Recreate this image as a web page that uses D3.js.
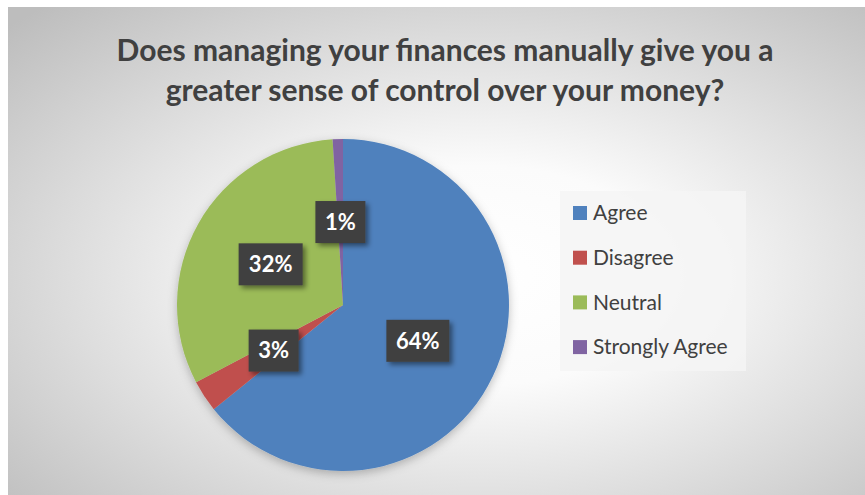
<!DOCTYPE html>
<html>
<head>
<meta charset="utf-8">
<script src="https://cdn.jsdelivr.net/npm/d3@7/dist/d3.min.js"></script>
<style>
body { margin: 0; background: #fff; }
text { font-family: Lato, "Open Sans", sans-serif; }
</style>
</head>
<body>
<script>

var categories = ["Agree", "Disagree", "Neutral", "Strongly Agree"];
var values = [64.2, 3.1, 31.7, 1.0];
var labels = ["64%", "3%", "32%", "1%"];
var colors = ["#4f81bd", "#c0504d", "#9bbb59", "#8064a2"];
var titleLines = ["Does managing your finances manually give you a", "greater sense of control over your money?"];

var W = 865, H = 495;

var svg = d3.select("body").append("svg")
    .attr("width", W)
    .attr("height", H);

var defs = svg.append("defs");

var grad = defs.append("radialGradient")
    .attr("id", "bg")
    .attr("cx", "0.55").attr("cy", "0.55").attr("r", "0.75");
grad.append("stop").attr("offset", "0").attr("stop-color", "#ffffff");
grad.append("stop").attr("offset", "0.3").attr("stop-color", "#fbfbfb");
grad.append("stop").attr("offset", "1").attr("stop-color", "#bdbdbd");

var shadow = defs.append("filter").attr("id", "shd")
    .attr("x", "-30%").attr("y", "-30%").attr("width", "160%").attr("height", "160%");
shadow.append("feDropShadow")
    .attr("dx", 3).attr("dy", 3).attr("stdDeviation", 2.5)
    .attr("flood-color", "#000").attr("flood-opacity", 0.45);

var pieShadow = defs.append("filter").attr("id", "pshd")
    .attr("x", "-20%").attr("y", "-20%").attr("width", "140%").attr("height", "140%");
pieShadow.append("feDropShadow")
    .attr("dx", 0).attr("dy", 3).attr("stdDeviation", 5)
    .attr("flood-color", "#000").attr("flood-opacity", 0.25);

svg.append("rect")
    .attr("x", 8).attr("y", 7)
    .attr("width", W - 8).attr("height", H - 7)
    .attr("fill", "url(#bg)");

// title
svg.append("g").selectAll("text")
    .data(titleLines)
    .join("text")
    .attr("x", 445)
    .attr("y", function(d, i) { return 61 + i * 40; })
    .attr("text-anchor", "middle")
    .attr("font-size", 30)
    .attr("font-weight", "bold")
    .attr("fill", "#404040")
    .text(function(d) { return d; });

// pie
var cx = 343, cy = 305, r = 166;

var pie = d3.pie().sort(null).value(function(d) { return d; });
var arcs = pie(values);
var arc = d3.arc().innerRadius(0).outerRadius(r);

var g = svg.append("g")
    .attr("transform", "translate(" + cx + "," + cy + ")");

g.append("g").attr("filter", "url(#pshd)")
  .selectAll("path")
    .data(arcs)
    .join("path")
    .attr("d", arc)
    .attr("fill", function(d, i) { return colors[i]; });

// data labels, centred halfway out
var labelArc = d3.arc().innerRadius(r * 0.5).outerRadius(r * 0.5);
var boxW = [63, 50, 64, 50], boxH = 42;

var lab = g.selectAll(".lab")
    .data(arcs)
    .join("g")
    .attr("class", "lab")
    .attr("transform", function(d) {
      var c = labelArc.centroid(d);
      return "translate(" + c[0] + "," + c[1] + ")";
    });

lab.append("rect")
    .attr("x", function(d, i) { return -boxW[i] / 2; })
    .attr("y", -boxH / 2)
    .attr("width", function(d, i) { return boxW[i]; })
    .attr("height", boxH)
    .attr("fill", "#404040")
    .attr("filter", "url(#shd)");

lab.append("text")
    .attr("text-anchor", "middle")
    .attr("dy", "0.36em")
    .attr("font-size", 22)
    .attr("font-weight", "bold")
    .attr("fill", "#fff")
    .text(function(d, i) { return labels[i]; });

// legend
var legend = svg.append("g");
legend.append("rect")
    .attr("x", 560).attr("y", 191)
    .attr("width", 186).attr("height", 180)
    .attr("fill", "#f4f4f4").attr("opacity", 0.85);

var item = legend.selectAll(".item")
    .data(categories)
    .join("g")
    .attr("class", "item")
    .attr("transform", function(d, i) { return "translate(573," + (213 + i * 44.7) + ")"; });

item.append("rect")
    .attr("x", 0).attr("y", -7)
    .attr("width", 14).attr("height", 14)
    .attr("fill", function(d, i) { return colors[i]; });

item.append("text")
    .attr("x", 20)
    .attr("dy", "0.35em")
    .attr("font-size", 21)
    .attr("fill", "#404040")
    .text(function(d) { return d; });

</script>
</body>
</html>
